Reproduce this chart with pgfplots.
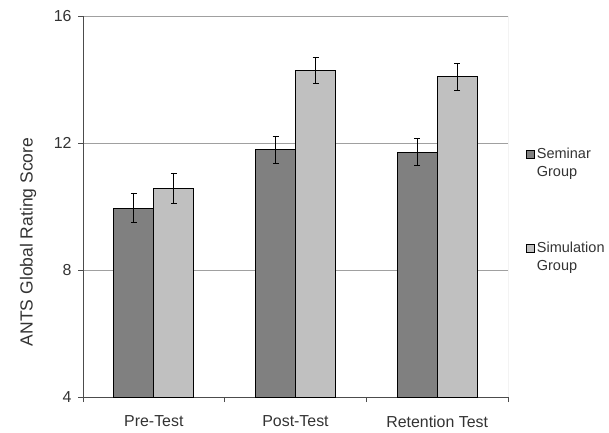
\documentclass[border=0pt]{standalone}
\usepackage{pgfplots}
\pgfplotsset{compat=1.18}
\usepackage{fontspec}
\setmainfont{Liberation Sans}
\definecolor{seminar}{HTML}{808080}
\definecolor{simul}{HTML}{C0C0C0}
\definecolor{gridc}{HTML}{A0A0A0}
\begin{document}
\begin{tikzpicture}[x=1pt,y=1pt]
\path[use as bounding box] (0,0) rectangle (609,432);
\begin{axis}[
  at={(83pt,35pt)}, anchor=south west,
  scale only axis, width=425pt, height=381pt,
  ybar=0pt, bar width=40pt,
  ymin=4, ymax=16, ytick={4,8,12,16},
  xmin=0, xmax=3,
  xtick={0,1,2,3}, xticklabels={},
  extra x ticks={0.5,1.5,2.5},
  extra x tick labels={Pre-Test,Post-Test,Retention Test},
  extra x tick style={major tick length=0pt, xticklabel style={yshift=-15pt}},
  tick align=outside, major tick length=5pt,
  tick style={black!70, line width=0.8pt},
  axis line style={black!70, line width=0.8pt},
  axis x line*=bottom, axis y line*=left,
  ymajorgrids, grid style={gridc, line width=0.8pt},
  /pgf/number format/assume math mode=true,
  ticklabel style={font=\fontsize{15.9}{18}\selectfont, text=black!80},
  yticklabel style={xshift=-3pt},
  ylabel={ANTS Global Rating Score},
  ylabel style={at={(axis description cs:-0.129,0.407)}, anchor=center,
    font=\fontsize{17.5}{20}\selectfont, text=black!80},
  legend style={at={(1.035,0.665)}, anchor=north west, draw=none, fill=none,
    font=\fontsize{14.5}{18}\selectfont, text=black!80,
    row sep=60pt, cells={anchor=west, align=left}},
  legend image code/.code={\draw[#1, draw=black, line width=0.8pt] (0pt,4.5pt) rectangle (8pt,12.5pt);},
  error bars/error bar style={black, line width=1pt},
  error bars/error mark options={rotate=90, mark size=3pt, black, line width=1pt},
]
\addplot[fill=seminar, draw=black, line width=1pt,
  error bars/.cd, y dir=both, y explicit]
  table[x=x, y=y, y error=e] {
x y e
0.5 9.95 0.46
1.5 11.78 0.41
2.5 11.71 0.42
};
\addplot[fill=simul, draw=black, line width=1pt,
  error bars/.cd, y dir=both, y explicit]
  table[x=x, y=y, y error=e] {
x y e
0.5 10.58 0.47
1.5 14.28 0.40
2.5 14.08 0.42
};
\legend{{Seminar\\Group},{Simulation\\Group}}
\draw[gridc, line width=0.8pt] (rel axis cs:1,0) -- (rel axis cs:1,1);
\end{axis}
\end{tikzpicture}
\end{document}
